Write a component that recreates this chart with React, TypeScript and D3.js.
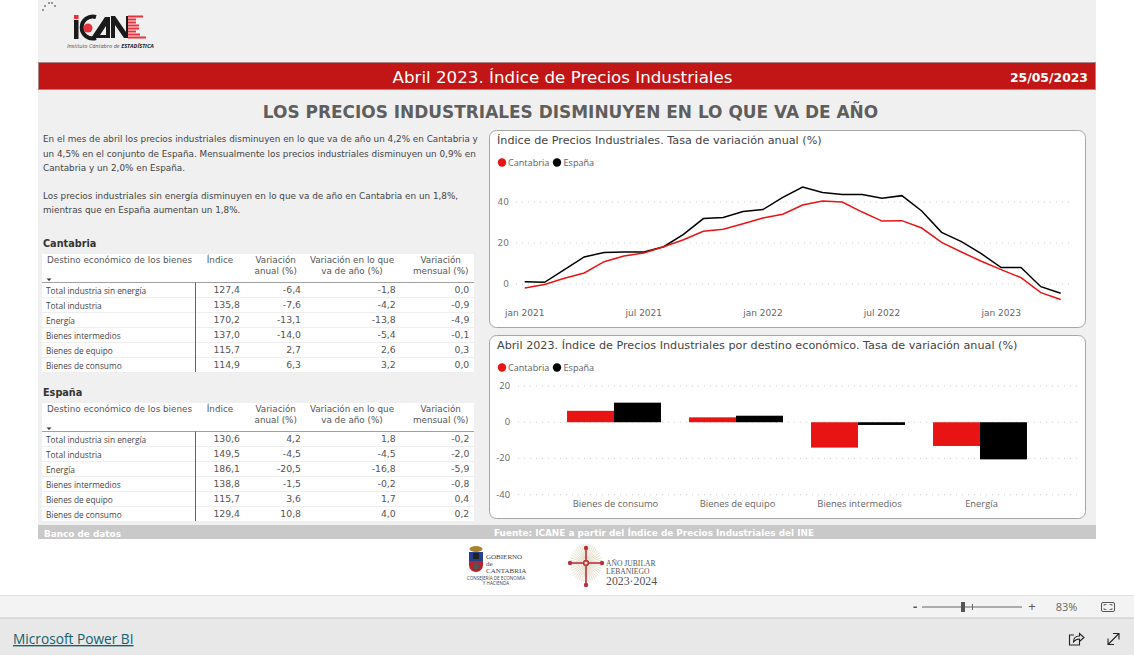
import * as d3 from "d3";

// Monthly annual rate of change, jan 2021 - abr 2023
const months = [
  "2021-01", "2021-02", "2021-03", "2021-04", "2021-05", "2021-06", "2021-07",
  "2021-08", "2021-09", "2021-10", "2021-11", "2021-12", "2022-01", "2022-02",
  "2022-03", "2022-04", "2022-05", "2022-06", "2022-07", "2022-08", "2022-09",
  "2022-10", "2022-11", "2022-12", "2023-01", "2023-02", "2023-03", "2023-04",
];
const cantabriaRate = [
  -2, -0.2, 2.8, 5.4, 10.9, 13.7, 15.1, 18.2, 21.6, 25.7, 26.7, 29.4, 32.2, 34,
  38.5, 40.5, 40, 35.1, 30.7, 30.9, 27.3, 20.3, 15.6, 11.1, 7, 3.1, -4.2, -7.6,
];
const espanaRate = [
  1.1, 0.8, 7, 13.2, 15.4, 15.6, 15.6, 18.2, 24.2, 31.9, 32.4, 35.4, 36.3, 42.3,
  47.3, 44.6, 43.7, 43.7, 41.8, 43.1, 35.6, 25.2, 20.7, 14.8, 8, 8.1, -1.3, -4.5,
];
const monthTicks: [string, string][] = [
  ["2021-01", "jan 2021"],
  ["2021-07", "jul 2021"],
  ["2022-01", "jan 2022"],
  ["2022-07", "jul 2022"],
  ["2023-01", "jan 2023"],
];
const lineYTicks = [0, 20, 40];

const barCategories = ["Bienes de consumo", "Bienes de equipo", "Bienes intermedios", "Energía"];
const barCantabria = [6.3, 2.7, -14.0, -13.1];
const barEspana = [10.8, 3.6, -1.5, -20.5];
const barYTicks = [20, 0, -20, -40];

const rowLabels = [
  "Total industria sin energía",
  "Total industria",
  "Energía",
  "Bienes intermedios",
  "Bienes de equipo",
  "Bienes de consumo",
];
const cantabriaRows = [
  ["127,4", "-6,4", "-1,8", "0,0"],
  ["135,8", "-7,6", "-4,2", "-0,9"],
  ["170,2", "-13,1", "-13,8", "-4,9"],
  ["137,0", "-14,0", "-5,4", "-0,1"],
  ["115,7", "2,7", "2,6", "0,3"],
  ["114,9", "6,3", "3,2", "0,0"],
];
const espanaRows = [
  ["130,6", "4,2", "1,8", "-0,2"],
  ["149,5", "-4,5", "-4,5", "-2,0"],
  ["186,1", "-20,5", "-16,8", "-5,9"],
  ["138,8", "-1,5", "-0,2", "-0,8"],
  ["115,7", "3,6", "1,7", "0,4"],
  ["129,4", "10,8", "4,0", "0,2"],
];
const paragraphLines: [number, string][] = [
  [139, "En el mes de abril los precios industriales disminuyen en lo que va de año un 4,2% en Cantabria y"],
  [154, "un 4,5% en el conjunto de España. Mensualmente los precios industriales disminuyen un 0,9% en"],
  [168, "Cantabria y un 2,0% en España."],
  [196, "Los precios industriales sin energía disminuyen en lo que va de año en Cantabria en un 1,8%,"],
  [210, "mientras que en España aumentan un 1,8%."],
];

const RED = "#e81414";
const DEJAVU = "'DejaVu Sans', sans-serif";
const UI = "'Open Sans', sans-serif";

const lineX = d3.scalePoint<string>().domain(months).range([524.7, 1060.7]);
const lineY = d3.scaleLinear().domain([0, 40]).range([284, 202]);
const makeLine = d3
  .line<number>()
  .x((_, i) => lineX(months[i])!)
  .y((d) => lineY(d));

const barX = d3.scaleBand<string>().domain(barCategories).range([553, 1041]).paddingInner(0.23).paddingOuter(0.115);
const barY = d3.scaleLinear().domain([-40, 20]).range([494.7, 386]);

function Card({ y, h, title }: { y: number; h: number; title: string }) {
  return (
    <g>
      <rect x={489.5} y={y + 0.5} width={596} height={h} rx={7} fill="#fff" stroke="#a6a6a6" />
      <text x={497} y={y + 14} fontFamily={DEJAVU} fontSize={11.2} fill="#444">{title}</text>
      <circle cx={502} cy={y + 32.5} r={4.2} fill={RED} />
      <text x={508} y={y + 36} fontFamily={UI} fontSize={9.1} fill="#605e5c">Cantabria</text>
      <circle cx={557} cy={y + 32.5} r={4.2} fill="#000" />
      <text x={563.5} y={y + 36} fontFamily={UI} fontSize={9.1} fill="#605e5c">España</text>
    </g>
  );
}

function DataTable({ top, name, rows }: { top: number; name: string; rows: string[][] }) {
  const headerLine = top + 28.5;
  const rowY = d3.scaleBand<number>().domain(d3.range(6)).range([headerLine, headerLine + 90]);
  const columns = [240, 301, 395.7, 469.3];
  return (
    <g fontFamily={UI} fill="#444">
      <text x={43} y={top - 7} fontFamily={DEJAVU} fontSize={9.7} fontWeight="bold" fill="#333">{name}</text>
      <rect x={42} y={top} width={432} height={118} fill="#fff" />
      <g fontSize={8.8} fontFamily={DEJAVU} fill="#555">
        <text x={47} y={top + 9}>Destino económico de los bienes</text>
        <text x={220} y={top + 9} textAnchor="middle">Índice</text>
        <text x={275.7} y={top + 9} textAnchor="middle">Variación</text>
        <text x={275.7} y={top + 20} textAnchor="middle">anual (%)</text>
        <text x={352} y={top + 9} textAnchor="middle">Variación en lo que</text>
        <text x={352} y={top + 20} textAnchor="middle">va de año (%)</text>
        <text x={440.7} y={top + 9} textAnchor="middle">Variación</text>
        <text x={440.7} y={top + 20} textAnchor="middle">mensual (%)</text>
      </g>
      <path d={`M46.5 ${top + 24.5}h5l-2.5 2.5z`} fill="#333" />
      {rows.map((row, i) => (
        <g key={i}>
          <line x1={42} x2={474} y1={rowY(i)! + 15} y2={rowY(i)! + 15} stroke="#eeeeee" />
          <text x={46} y={rowY(i)! + 11} fontSize={8.3}>{rowLabels[i]}</text>
          {row.map((cell, j) => (
            <text key={j} x={columns[j]} y={rowY(i)! + 10} textAnchor="end" fontFamily={DEJAVU} fontSize={9.3} fill="#555">{cell}</text>
          ))}
        </g>
      ))}
      <line x1={42} x2={474} y1={headerLine} y2={headerLine} stroke="#a0a0a0" />
      <line x1={195.5} x2={195.5} y1={headerLine} y2={top + 118} stroke="#666" />
    </g>
  );
}

function Logos() {
  return (
    <g>
      {/* ICANE logo */}
      <g fill="#777">
        {[[43, 10], [45, 6], [49, 3], [52, 3], [55, 6]].map(([x, y], i) => (
          <circle key={i} cx={x} cy={y} r={1} />
        ))}
      </g>
      <rect x={74} y={20} width={4.5} height={19} fill="#1a1a1a" />
      <rect x={74} y={15} width={4.5} height={4} fill="#e8323c" />
      <path d="M96 17 a11 11 0 1 0 0 21" fill="none" stroke="#1a1a1a" strokeWidth={4} />
      <circle cx={88} cy={28} r={4.5} fill="#e8323c" />
      <path d="M91 38 L105 17 L110 17 L110 38 Z M100 35 h6 v-9 Z" fill="#1a1a1a" fillRule="evenodd" />
      <path d="M111 38 V16 h4 L126 32 V16 h2 V38 h-4 L115 25 V38 Z" fill="#1a1a1a" />
      <g fill="#e8323c">
        {d3.range(8).map((i) => (
          <rect key={i} x={128} y={15.5 + i * 3} width={[15, 8, 8, 11, 11, 8, 12, 18][i]} height={2} />
        ))}
      </g>
      <text x={67} y={48} fontFamily={UI} fontSize={5.6} fontStyle="italic" fill="#555">
        Instituto Cántabro de <tspan fontWeight="bold" fill="#222">ESTADÍSTICA</tspan>
      </text>

      {/* Gobierno de Cantabria */}
      <g>
        <path d="M469 552 h14 v13 a7 7 0 0 1 -14 0 z" fill="#b5242c" />
        <rect x={469} y={552} width={14} height={9} fill="#26408f" />
        <rect x={473} y={553} width={6} height={6} fill="#222" />
        <circle cx={476} cy={566} r={3.2} fill="#555" />
        <ellipse cx={476} cy={549} rx={6.5} ry={3} fill="#a9812f" />
        <g fontFamily="'Liberation Serif', serif" fontSize={7} fill="#444">
          <text x={486} y={559}>GOBIERNO</text>
          <text x={486} y={566}>de</text>
          <text x={486} y={573}>CANTABRIA</text>
        </g>
        <g fontFamily={UI} fontSize={4.6} fill="#444" textAnchor="middle">
          <text x={496} y={580}>CONSEJERÍA DE ECONOMÍA</text>
          <text x={496} y={585}>Y HACIENDA</text>
        </g>
      </g>

      {/* Año Jubilar Lebaniego */}
      <g>
        <g stroke="#dcd3ba" strokeWidth={0.7}>
          {d3.range(44).map((i) => {
            const a = (i / 44) * 2 * Math.PI;
            return <line key={i} x1={586 + 4 * Math.cos(a)} y1={563 + 4 * Math.sin(a)} x2={586 + 16 * Math.cos(a)} y2={563 + 19 * Math.sin(a)} />;
          })}
        </g>
        <g stroke="#b8323c" strokeWidth={1.6} fill="#b8323c">
          <line x1={586} y1={548} x2={586} y2={585} />
          <line x1={570} y1={563} x2={602} y2={563} />
          <circle cx={586} cy={548} r={1.4} />
          <circle cx={586} cy={585} r={1.4} />
          <circle cx={570} cy={563} r={1.4} />
          <circle cx={602} cy={563} r={1.4} />
          <circle cx={586} cy={563} r={2.4} fill="#e8d9c8" />
        </g>
        <g fontFamily="'Liberation Serif', serif" fill="#555">
          <text x={606} y={566} fontSize={7.6}>AÑO JUBILAR</text>
          <text x={606} y={574} fontSize={7.6}>LEBANIEGO</text>
          <text x={606} y={585} fontSize={11.8}>2023·2024</text>
        </g>
      </g>
    </g>
  );
}

function Viewer() {
  return (
    <g>
      <rect x={0} y={595} width={1134} height={23} fill="#f3f3f3" />
      <rect x={0} y={618} width={1134} height={37} fill="#e8e8e8" />
      <line x1={0} x2={1134} y1={595.5} y2={595.5} stroke="#e2e2e2" />
      <line x1={0} x2={1134} y1={618} y2={618} stroke="#c8c8c8" />
      <text x={915} y={611} textAnchor="middle" fontFamily={UI} fontSize={13} fontWeight="bold" fill="#555">-</text>
      <line x1={922} x2={1022} y1={607} y2={607} stroke="#666" />
      <line x1={972.5} x2={972.5} y1={604} y2={610} stroke="#666" />
      <rect x={961} y={602} width={4} height={10} fill="#555" />
      <text x={1032} y={611} textAnchor="middle" fontFamily={UI} fontSize={13} fill="#555">+</text>
      <text x={1066.5} y={611} textAnchor="middle" fontFamily={UI} fontSize={11} fill="#666">83%</text>
      <rect x={1101.5} y={602.5} width={13} height={9} rx={1.5} fill="none" stroke="#555" />
      <path d="M1104 606v-1.5h2.5M1112 606v-1.5h-2.5M1104 608v1.5h2.5M1112 608v1.5h-2.5" fill="none" stroke="#555" strokeWidth={0.8} />
      <text x={13} y={644} fontFamily={UI} fontSize={13.7} fontWeight={500} fill="#11626f" textDecoration="underline">Microsoft Power BI</text>
      <path d="M1074 635h-4.5v10h10v-3M1073.5 642c0-4 2.500-6 6-6v-2.500l4.500 4-4.500 4v-2.500c-2.500 0-4 .5-6 3z" fill="none" stroke="#222" strokeWidth={1.1} />
      <path d="M1108 644.500L1119 633.500M1113 633.500h6v6M1108 638.500v6h6" fill="none" stroke="#222" strokeWidth={1.1} />
    </g>
  );
}

export default function App() {
  return (
    <svg
      width={1134}
      height={655}
      style={{ position: "absolute", left: 0, top: 0, display: "block", background: "#fff" }}
    >
      {/* report page */}
      <rect x={38} y={0} width={1058} height={539} fill="#f0f0f0" />
      <rect x={38.5} y={62.5} width={1057} height={27} fill="#c21616" stroke="#a88" />
      <text x={562.5} y={83} textAnchor="middle" fontFamily={DEJAVU} fontSize={16.7} fill="#fff">
        Abril 2023. Índice de Precios Industriales
      </text>
      <text x={1088} y={82} textAnchor="end" fontFamily={DEJAVU} fontSize={12.4} fontWeight="bold" fill="#fff">
        25/05/2023
      </text>
      <text x={570.5} y={118} textAnchor="middle" fontFamily={DEJAVU} fontSize={16.95} fontWeight="bold" fill="#605e5c">
        LOS PRECIOS INDUSTRIALES DISMINUYEN EN LO QUE VA DE AÑO
      </text>
      {paragraphLines.map(([y, line]) => (
        <text key={y} x={43} y={y + 3} fontFamily={DEJAVU} fontSize={8.84} fill="#444">{line}</text>
      ))}

      <DataTable top={254} name="Cantabria" rows={cantabriaRows} />
      <DataTable top={403} name="España" rows={espanaRows} />

      {/* line chart */}
      <Card y={130} h={197} title="Índice de Precios Industriales. Tasa de variación anual (%)" />
      {lineYTicks.map((t) => (
        <g key={t}>
          <line x1={516} x2={1070} y1={lineY(t)} y2={lineY(t)} stroke="#cfcfcf" strokeDasharray="1 5" />
          <text x={509} y={lineY(t) + 2.500} textAnchor="end" fontFamily={DEJAVU} fontSize={9} fill="#777">{t}</text>
        </g>
      ))}
      {monthTicks.map(([m, label]) => (
        <text key={m} x={lineX(m)} y={316} textAnchor="middle" fontFamily={DEJAVU} fontSize={9} fill="#666">{label}</text>
      ))}
      <path d={makeLine(espanaRate)!} fill="none" stroke="#000" strokeWidth={1.5} />
      <path d={makeLine(cantabriaRate)!} fill="none" stroke={RED} strokeWidth={1.5} />

      {/* bar chart */}
      <Card y={335} h={183} title="Abril 2023. Índice de Precios Industriales por destino económico. Tasa de variación anual (%)" />
      {barYTicks.map((t) => (
        <g key={t}>
          <line x1={518} x2={1080} y1={barY(t)} y2={barY(t)} stroke="#cfcfcf" strokeDasharray="1 5" />
          <text x={510} y={barY(t) + 3} textAnchor="end" fontFamily={UI} fontSize={9.4} fill="#666">{t}</text>
        </g>
      ))}
      {barCategories.map((c, i) => {
        const x = barX(c)!;
        const w = barX.bandwidth() / 2;
        return (
          <g key={c}>
            <rect x={x} y={Math.min(barY(0), barY(barCantabria[i]))} width={w} height={Math.abs(barY(barCantabria[i]) - barY(0))} fill={RED} />
            <rect x={x + w} y={Math.min(barY(0), barY(barEspana[i]))} width={w} height={Math.abs(barY(barEspana[i]) - barY(0))} fill="#000" />
            <text x={x + w + 1.500} y={507} textAnchor="middle" fontFamily={UI} fontSize={9.4} fill="#666">{c}</text>
          </g>
        );
      })}

      {/* grey bottom strip */}
      <rect x={38} y={525} width={1058} height={14} fill="#c9c9c9" />
      <text x={44} y={537} fontFamily={DEJAVU} fontSize={8.9} fontWeight="bold" fill="#fff">Banco de datos</text>
      <text x={494} y={536} fontFamily={DEJAVU} fontSize={8.9} fontWeight="bold" fill="#fff">
        Fuente: ICANE a partir del Índice de Precios Industriales del INE
      </text>

      <Logos />
      <Viewer />
    </svg>
  );
}
